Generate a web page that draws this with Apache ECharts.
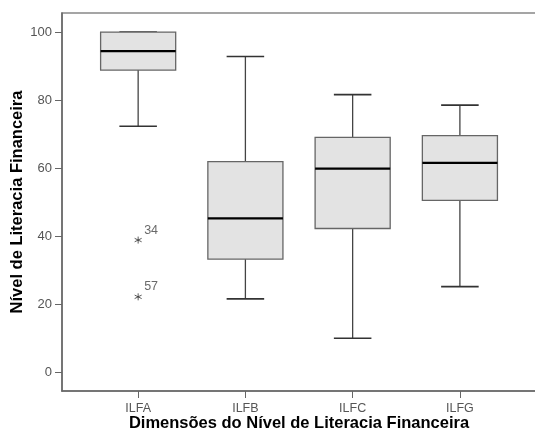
<!DOCTYPE html>
<html>
<head>
<meta charset="utf-8">
<script src="https://cdn.jsdelivr.net/npm/echarts@6/dist/echarts.min.js"></script>
<style>html,body{margin:0;padding:0;background:#fff}#c{width:535px;height:432px}</style>
</head>
<body>
<div id="c"></div>
<script>
var categories = ['ILFA', 'ILFB', 'ILFC', 'ILFG'];
var whiskerLow = [72.3, 21.5, 9.9, 25.1];
var q1 = [88.8, 33.2, 42.2, 50.5];
var median = [94.4, 45.2, 59.8, 61.5];
var q3 = [100, 61.9, 69.0, 69.5];
var whiskerHigh = [100, 92.8, 81.6, 78.5];
var outlierCategory = ['ILFA', 'ILFA'];
var outlierValue = [38.8, 22.1];
var outlierCase = ['34', '57'];
var yTicks = [0, 20, 40, 60, 80, 100];

var boxData = categories.map(function (c, i) {
  return [i + 1, whiskerLow[i], q1[i], median[i], q3[i], whiskerHigh[i]];
});
var outlierData = outlierValue.map(function (v, i) {
  return { value: [categories.indexOf(outlierCategory[i]) + 1, v], name: outlierCase[i] };
});

var chart = echarts.init(document.getElementById('c'), null, { renderer: 'canvas' });
var FONT = '"Liberation Sans", Arial, sans-serif';
chart.setOption({
  animation: false,
  backgroundColor: '#fff',
  grid: { left: 62, top: 13, right: -30, bottom: 41, outerBoundsMode: 'none', containLabel: false,
          show: true, borderColor: '#888', borderWidth: 1.5 },
  xAxis: {
    type: 'value', min: 0.29, max: 4.98,
    splitLine: { show: false },
    axisLine: { show: true, onZero: false, lineStyle: { color: '#666', width: 1.5 } },
    axisTick: { show: true, length: 7, customValues: [1, 2, 3, 4], lineStyle: { color: '#666' } },
    axisLabel: {
      customValues: [1, 2, 3, 4], margin: 11, color: '#555', fontFamily: FONT, fontSize: 12.5,
      formatter: function (v) { return categories[Math.round(v) - 1] || ''; }
    }
  },
  yAxis: {
    type: 'value', min: -5.6, max: 105.6,
    name: 'Nível de Literacia Financeira', nameLocation: 'middle', nameGap: 36, nameMoveOverlap: false,
    nameTextStyle: { fontFamily: FONT, fontWeight: 'bold', fontSize: 16.5, color: '#000' },
    splitLine: { show: false },
    axisLine: { show: true, onZero: false, lineStyle: { color: '#666', width: 1.5 } },
    axisTick: { show: true, length: 7, customValues: yTicks, lineStyle: { color: '#666' } },
    axisLabel: { customValues: yTicks, margin: 10, color: '#555', fontFamily: FONT, fontSize: 13 }
  },
  graphic: [{
    type: 'text', x: 299, y: 423,
    style: { text: 'Dimensões do Nível de Literacia Financeira', font: 'bold 16.5px ' + FONT, fill: '#000',
             align: 'center', verticalAlign: 'middle' }
  }],
  series: [{
    type: 'custom',
    data: boxData,
    renderItem: function (params, api) {
      var x = api.value(0);
      var w = api.size([0.7, 0])[0];
      var cw = w / 2;
      var pLow = api.coord([x, api.value(1)]);
      var pQ1 = api.coord([x, api.value(2)]);
      var pMed = api.coord([x, api.value(3)]);
      var pQ3 = api.coord([x, api.value(4)]);
      var pHigh = api.coord([x, api.value(5)]);
      var cx = pLow[0];
      var lineStyle = { stroke: '#444', lineWidth: 1.3 };
      return {
        type: 'group',
        children: [
          { type: 'line', shape: { x1: cx, y1: pHigh[1], x2: cx, y2: pQ3[1] }, style: lineStyle },
          { type: 'line', shape: { x1: cx, y1: pQ1[1], x2: cx, y2: pLow[1] }, style: lineStyle },
          { type: 'line', shape: { x1: cx - cw / 2, y1: pHigh[1], x2: cx + cw / 2, y2: pHigh[1] }, style: { stroke: '#333', lineWidth: 1.6 } },
          { type: 'line', shape: { x1: cx - cw / 2, y1: pLow[1], x2: cx + cw / 2, y2: pLow[1] }, style: { stroke: '#333', lineWidth: 1.6 } },
          { type: 'rect', shape: { x: cx - w / 2, y: pQ3[1], width: w, height: pQ1[1] - pQ3[1] }, style: { fill: '#e3e3e3', stroke: '#666', lineWidth: 1.3 } },
          { type: 'line', shape: { x1: cx - w / 2, y1: pMed[1], x2: cx + w / 2, y2: pMed[1] }, style: { stroke: '#000', lineWidth: 2.2 } }
        ]
      };
    }
  }, {
    type: 'scatter',
    data: outlierData,
    symbol: 'path://M5,0L5,10M0.7,2.5L9.3,7.5M0.7,7.5L9.3,2.5',
    symbolSize: 7,
    itemStyle: { color: 'none', borderColor: '#333', borderWidth: 1 },
    label: {
      show: true, formatter: '{b}', position: 'right', offset: [-5, -10],
      color: '#444', fontFamily: FONT, fontSize: 12.5
    }
  }]
});
</script>
</body>
</html>
